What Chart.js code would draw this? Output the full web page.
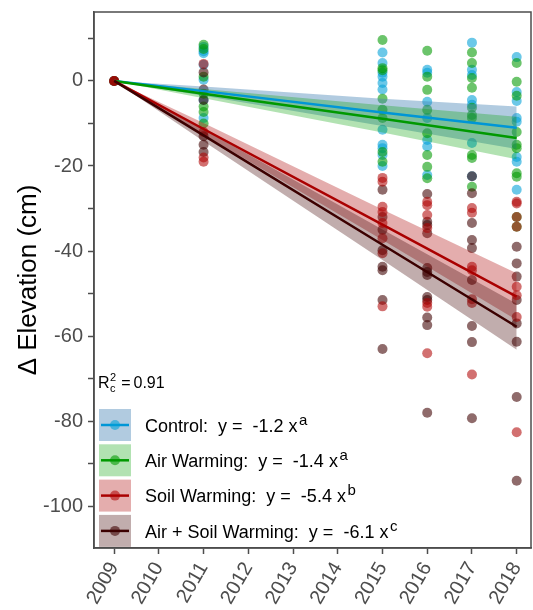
<!DOCTYPE html>
<html>
<head>
<meta charset="utf-8">
<script src="https://cdn.jsdelivr.net/npm/chart.js@4.4.0/dist/chart.umd.min.js"></script>
<style>
  html, body { margin: 0; padding: 0; background: #fff; }
</style>
</head>
<body>
<canvas id="elevation" width="533" height="610"></canvas>
<script>
// groups, in plotting order
var groups = ["Control", "Air Warming", "Soil Warming", "Air + Soil Warming"];
var coefs = ["-1.2", "-1.4", "-5.4", "-6.1"];
var exps = ["a", "a", "b", "c"];

// sampling years of the measured points
var years = [2009, 2011, 2015, 2016, 2017, 2018];

// measured elevation change (cm), one list per year
var controlVals = [
  [0],
  [8, 7, 6.5, 3.8, 0.3, -4.5, -8.7],
  [6.7, 4.2, 1.9, 1.0, -0.5, -2, -11.5, -15, -15.8, -17.4, -20],
  [2.6, 1.9, -4.9, -8.7, -13.9, -15.4, -22.1],
  [9, 2.6, 1.4, -4.5, -5.6, -14.6, -22.4],
  [5.6, -2.6, -4.7, -8.7, -9.6, -17.9, -19, -25.6]
];
var airVals = [
  [0],
  [8.5, 7.5, 1, -3, -6, -7.3, -10],
  [9.6, 3, 2.5, -4.2, -6.8, -8.7, -16.7, -19],
  [7.1, 1, -2.1, -6.8, -12.3, -17.4, -20.2, -22.9],
  [6.7, 4.2, 0.7, -1.6, -6.3, -8, -8.7, -17.4, -18.1, -24.9],
  [4.2, -0.2, -3.5, -12, -15, -15.8, -21.7, -22.5, -32, -34.3]
];
var soilVals = [
  [0, 0],
  [4, -12, -18, -19],
  [-22.8, -23.7, -29.6, -30.8, -33.4, -37, -40.5, -53],
  [-28.4, -29.2, -31.5, -34.6, -52.2, -53.1, -64],
  [-29.9, -31, -43.7, -44.5, -51.3, -52.2, -69],
  [-28.4, -28.8, -32, -34.3, -48.4, -50.4, -55.5, -82.6]
];
var airSoilVals = [
  [0],
  [2, -2, -4.5, -13, -15, -16.7],
  [-25.6, -32, -35, -39.8, -43.7, -44.5, -51.5, -63],
  [-26.6, -33.1, -33.9, -35.8, -44, -44.9, -45.6, -50.8, -51.5, -55.6, -57.4, -78],
  [-22.4, -26.4, -33.4, -37.4, -39.3, -46.8, -57.6, -61.4, -79.3],
  [-39, -42.9, -46, -51.5, -57, -61.3, -74.3, -94]
];

// fitted curves and their confidence bands
var fitYears = [2009, 2011, 2015, 2018];
var fitLines = [
  [0, -2.4, -7.4, -11.0],
  [0, -3.0, -8.9, -13.4],
  [0, -11.3, -33.8, -50.7],
  [0, -12.8, -38.5, -57.8]
];
var bandUpper = [
  [0, -1.3, -4.2, -6.0],
  [0, -1.9, -5.7, -8.4],
  [0, -9.9, -30.2, -45.2],
  [0, -11.4, -34.9, -52.4]
];
var bandLower = [
  [0, -3.5, -10.6, -16.0],
  [0, -4.1, -12.1, -18.4],
  [0, -12.6, -37.4, -56.2],
  [0, -14.2, -42.1, -63.2]
];

var allVals = [controlVals, airVals, soilVals, airSoilVals];
// soil points sit on top of the pile
var pointOrder = [40, 39, 37, 38];

var pointColors = ['rgba(0,160,215,0.58)', 'rgba(0,153,0,0.58)', 'rgba(175,0,0,0.56)', 'rgba(62,0,0,0.58)'];
var lineColors = ['#0096d6', '#009900', '#aa0000', '#3c0000'];
var bandColors = ['rgba(70,130,180,0.42)', 'rgba(0,160,0,0.3)', 'rgba(170,0,0,0.32)', 'rgba(62,0,0,0.32)'];

var fontName = '"Liberation Sans", Arial, sans-serif';

function xy(xs, ys) {
  var out = [];
  for (var i = 0; i < xs.length; i++) out.push({x: xs[i], y: ys[i]});
  return out;
}

var datasets = [];
for (var g = 0; g < groups.length; g++) {
  var pts = [];
  for (var i = 0; i < years.length; i++) {
    allVals[g][i].forEach(function (v) { pts.push({x: years[i], y: v}); });
  }
  // points at the bottom
  datasets.push({
    label: groups[g],
    data: pts,
    order: pointOrder[g],
    pointRadius: 5,
    pointBackgroundColor: pointColors[g],
    pointBorderWidth: 0,
    showLine: false
  });
  // band
  var upIdx = datasets.length;
  datasets.push({
    label: groups[g] + ' upper',
    data: xy(fitYears, bandUpper[g]),
    order: 20 - g,
    showLine: true,
    borderWidth: 0,
    pointRadius: 0,
    fill: false
  });
  datasets.push({
    label: groups[g] + ' lower',
    data: xy(fitYears, bandLower[g]),
    order: 20 - g,
    showLine: true,
    borderWidth: 0,
    pointRadius: 0,
    backgroundColor: bandColors[g],
    fill: upIdx
  });
  // fitted line
  datasets.push({
    label: groups[g] + ' fit',
    data: xy(fitYears, fitLines[g]),
    order: 10 - g,
    showLine: true,
    borderColor: lineColors[g],
    borderWidth: 2.5,
    pointRadius: 0,
    fill: false
  });
}

// panel border, R2 note and the legend with its superscripts
var panelExtras = {
  id: 'panelExtras',
  afterDraw: function (chart) {
    var ctx = chart.ctx, a = chart.chartArea;
    ctx.save();
    ctx.strokeStyle = '#4d4d4d';
    ctx.lineWidth = 1.5;
    ctx.strokeRect(a.left, a.top, a.right - a.left, a.bottom - a.top);

    ctx.fillStyle = '#000';
    ctx.textBaseline = 'alphabetic';
    ctx.textAlign = 'left';
    var x = a.left + 4, y = a.bottom - 160;
    ctx.font = '16px ' + fontName;
    ctx.fillText('R', x, y);
    x += ctx.measureText('R').width + 0.5;
    ctx.font = '11px ' + fontName;
    ctx.fillText('2', x, y - 7);
    ctx.fillText('c', x, y + 4);
    x += ctx.measureText('2').width + 5;
    ctx.font = '16px ' + fontName;
    ctx.fillText('=', x, y);
    x += ctx.measureText('=').width + 3;
    ctx.fillText('0.91', x, y);

    for (var g = 0; g < groups.length; g++) {
      var bx = a.left + 5, by = a.bottom - 139 + g * 35.3;
      ctx.fillStyle = '#fff';
      ctx.fillRect(bx, by, 32, 32);
      ctx.fillStyle = bandColors[g];
      ctx.fillRect(bx, by, 32, 32);
      ctx.strokeStyle = lineColors[g];
      ctx.lineWidth = 2.5;
      ctx.beginPath();
      ctx.moveTo(bx + 2, by + 16);
      ctx.lineTo(bx + 30, by + 16);
      ctx.stroke();
      ctx.fillStyle = pointColors[g];
      ctx.beginPath();
      ctx.arc(bx + 16, by + 16, 5, 0, 2 * Math.PI);
      ctx.fill();

      ctx.fillStyle = '#000';
      ctx.textBaseline = 'alphabetic';
      ctx.font = '18px ' + fontName;
      var txt = groups[g] + ':  y =  ' + coefs[g] + ' x';
      var tx = bx + 46, ty = by + 22.7;
      ctx.fillText(txt, tx, ty);
      var w = ctx.measureText(txt).width;
      ctx.font = '15px ' + fontName;
      ctx.fillText(exps[g], tx + w + 1.5, ty - 7);
    }
    ctx.restore();
  }
};

var chart = new Chart(document.getElementById('elevation'), {
  type: 'scatter',
  data: { datasets: datasets },
  plugins: [panelExtras],
  options: {
    responsive: false,
    animation: false,
    devicePixelRatio: 1,
    layout: { autoPadding: false, padding: { top: 12, right: 2, left: 0, bottom: 0 } },
    plugins: {
      legend: { display: false },
      tooltip: { enabled: false }
    },
    scales: {
      x: {
        type: 'linear',
        min: 2008.55,
        max: 2018.32,
        afterFit: function (s) { s.height = 62; s.paddingRight = 0; s.paddingLeft = 0; },
        border: { color: '#4d4d4d', width: 1.5 },
        grid: { drawOnChartArea: false, color: '#4d4d4d', tickLength: 6, tickWidth: 1.5 },
        ticks: {
          stepSize: 1,
          includeBounds: false,
          autoSkip: false,
          minRotation: 60,
          maxRotation: 60,
          padding: 4,
          color: '#4d4d4d',
          font: { family: fontName, size: 20 },
          callback: function (v) { return String(v); }
        }
      },
      y: {
        min: -109.8,
        max: 16.2,
        afterFit: function (s) { s.width = 94; s.paddingTop = 0; s.paddingBottom = 0; },
        border: { color: '#4d4d4d', width: 1.5 },
        grid: { drawOnChartArea: false, color: '#4d4d4d', tickLength: 6, tickWidth: 1.5 },
        title: {
          display: true,
          text: 'Δ Elevation (cm)',
          color: '#000',
          font: { family: fontName, size: 26 },
          padding: { top: 13, bottom: 0 }
        },
        ticks: {
          stepSize: 10,
          includeBounds: false,
          autoSkip: false,
          padding: 5,
          color: '#4d4d4d',
          font: { family: fontName, size: 20 },
          callback: function (v) { return Math.round(v) % 20 === 0 ? String(Math.round(v)) : ''; }
        }
      }
    }
  }
});
</script>
</body>
</html>
